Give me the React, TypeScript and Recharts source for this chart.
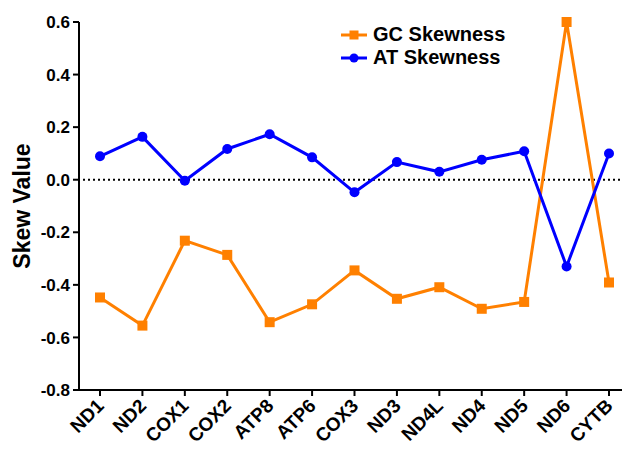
import React from 'react';
import { LineChart, Line, XAxis, YAxis, ReferenceLine, Label } from 'recharts';

const genes = ['ND1', 'ND2', 'COX1', 'COX2', 'ATP8', 'ATP6', 'COX3', 'ND3', 'ND4L', 'ND4', 'ND5', 'ND6', 'CYTB'];
const gcSkew = [-0.448, -0.555, -0.232, -0.286, -0.542, -0.474, -0.345, -0.453, -0.409, -0.491, -0.465, 0.6, -0.391];
const atSkew = [0.089, 0.163, -0.004, 0.117, 0.173, 0.085, -0.048, 0.067, 0.03, 0.076, 0.108, -0.33, 0.1];
const yTicks = [-0.8, -0.6, -0.4, -0.2, 0, 0.2, 0.4, 0.6];

const ORANGE = '#ff8000';
const BLUE = '#0000ff';
const FONT = '"Liberation Sans", Arial, sans-serif';

const data = genes.map((g, i) => ({ gene: g, gc: gcSkew[i], at: atSkew[i] }));

const SquareDot = (props: any) => {
  const { cx, cy } = props;
  if (cx == null || cy == null) return null;
  return <rect x={cx - 5} y={cy - 5} width={10} height={10} fill={ORANGE} />;
};

const XTick = ({ x, y, payload }: any) => (
  <text
    x={x + 5}
    y={y + 9}
    transform={`rotate(-45, ${x + 5}, ${y + 9})`}
    textAnchor="end"
    fontFamily={FONT}
    fontWeight="bold"
    fontSize={19}
    fill="#000"
  >
    {payload.value}
  </text>
);

const YTick = ({ x, y, payload }: any) => (
  <text
    x={x - 1}
    y={y}
    dy="0.36em"
    textAnchor="end"
    fontFamily={FONT}
    fontWeight="bold"
    fontSize={17}
    fill="#000"
  >
    {Number(payload.value).toFixed(1)}
  </text>
);

// legend drawn as an overlay so it does not eat plot space
const LegendBox = () => (
  <div
    style={{
      position: 'absolute',
      left: 340,
      top: 23,
      fontFamily: FONT,
      fontWeight: 'bold',
      fontSize: 20,
      color: '#000',
      lineHeight: '23px',
    }}
  >
    {[
      { name: 'GC Skewness', color: ORANGE, square: true },
      { name: 'AT Skewness', color: BLUE, square: false },
    ].map((it) => (
      <div key={it.name} style={{ display: 'flex', alignItems: 'center' }}>
        <svg width={30} height={14} style={{ marginRight: 3 }}>
          <line x1={1} y1={7} x2={27} y2={7} stroke={it.color} strokeWidth={3} />
          {it.square ? (
            <rect x={9.5} y={2.5} width={9} height={9} fill={it.color} />
          ) : (
            <circle cx={14} cy={7} r={4.5} fill={it.color} />
          )}
        </svg>
        <span>{it.name}</span>
      </div>
    ))}
  </div>
);

export default function App() {
  return (
    <div style={{ position: 'absolute', left: 0, top: 0, width: 622, height: 449, background: '#fff' }}>
      <LineChart width={622} height={449} data={data} margin={{ top: 22, right: 0, left: 0, bottom: 0 }}>
        <XAxis
          dataKey="gene"
          height={59}
          padding={{ left: 21, right: 13 }}
          axisLine={{ stroke: '#000', strokeWidth: 2 }}
          tickLine={{ stroke: '#000', strokeWidth: 2 }}
          tickSize={6}
          interval={0}
          tick={<XTick />}
        />
        <YAxis
          width={79}
          domain={[-0.8, 0.6]}
          ticks={yTicks}
          axisLine={{ stroke: '#000', strokeWidth: 2 }}
          tickLine={{ stroke: '#000', strokeWidth: 2 }}
          tickSize={6}
          tick={<YTick />}
        >
          <Label
            value="Skew Value"
            angle={-90}
            position="insideLeft"
            offset={22}
            style={{ textAnchor: 'middle', fill: '#000', fontFamily: FONT, fontWeight: 'bold', fontSize: 23 }}
          />
        </YAxis>
        <ReferenceLine y={0} stroke="#000" strokeWidth={2} strokeDasharray="2 3" strokeDashoffset={-4} />
        <Line
          type="linear"
          dataKey="gc"
          name="GC Skewness"
          stroke={ORANGE}
          strokeWidth={3}
          dot={<SquareDot />}
          activeDot={false}
          isAnimationActive={false}
        />
        <Line
          type="linear"
          dataKey="at"
          name="AT Skewness"
          stroke={BLUE}
          strokeWidth={3}
          dot={{ r: 5, fill: BLUE, stroke: BLUE, strokeWidth: 0 }}
          activeDot={false}
          isAnimationActive={false}
        />
      </LineChart>
      <LegendBox />
    </div>
  );
}
